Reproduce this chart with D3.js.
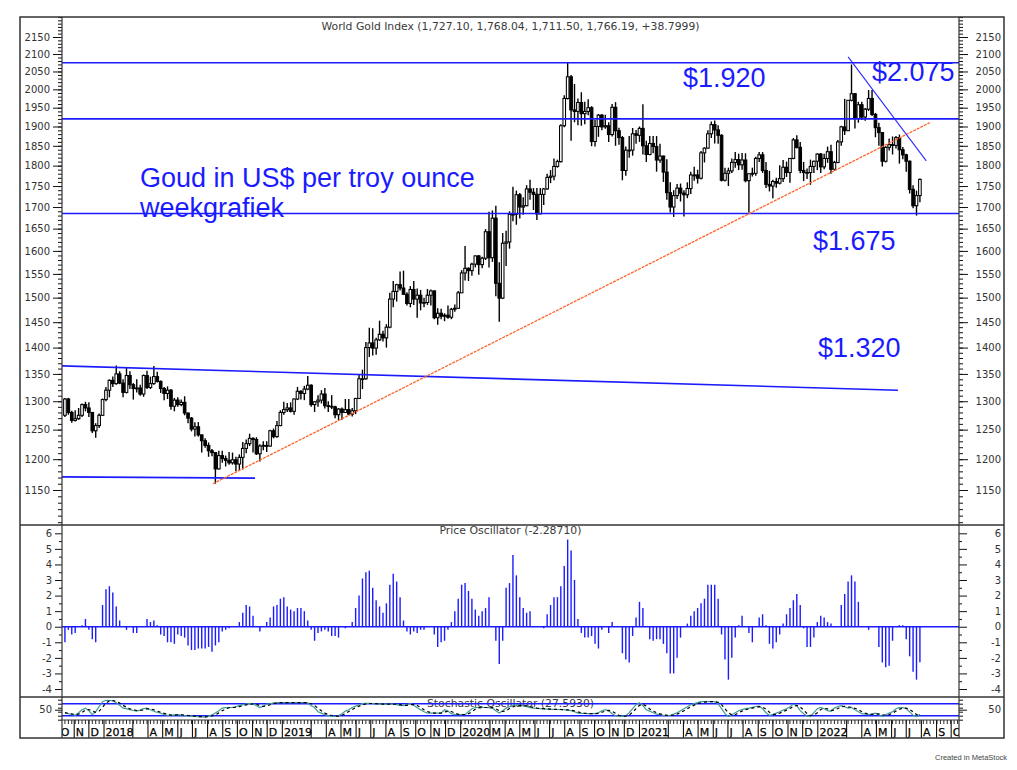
<!DOCTYPE html>
<html>
<head>
<meta charset="utf-8">
<title>World Gold Index - weekgrafiek</title>
<script src="https://cdn.jsdelivr.net/npm/d3@7/dist/d3.min.js"></script>
<style>
  html, body { margin: 0; padding: 0; background: #fff; }
  svg { display: block; }
</style>
</head>
<body>
<svg id="chart" width="1017" height="770"></svg>
<script>
"use strict";

// weekly bars, first week ends friday 13 oct 2017, last one 29 jul 2022
const firstWeek = new Date(2017, 9, 13);

const opens = [
  1275,1304,1280,1266,1269,1275,1294,1288,1280,1248, 1257,1275,1303,1320,1338,1332,1350,1333,1316,1347,
  1330,1323,1324,1313,1347,1325,1332,1345,1336,1323, 1314,1320,1291,1302,1294,1298,1279,1270,1251,1255,
  1241,1231,1223,1214,1211,1184,1206,1201,1198,1194, 1199,1192,1203,1218,1226,1235,1233,1209,1222,1223,
  1222,1248,1238,1257,1280,1285,1288,1282,1304,1318, 1314,1322,1329,1294,1299,1302,1313,1292,1291,1290,
  1276,1286,1280,1285,1277,1283,1305,1341,1341,1400, 1409,1399,1415,1426,1419,1440,1497,1513,1527,1520,
  1507,1488,1517,1497,1505,1489,1490,1505,1514,1459, 1468,1462,1464,1460,1476,1478,1510,1552,1562,1557,
  1571,1589,1570,1584,1643,1585,1674,1530,1499,1617, 1620,1683,1683,1729,1700,1703,1743,1735,1730,1684,
  1730,1743,1771,1774,1798,1810,1902,1975,2035,1944, 1940,1964,1934,1940,1950,1861,1900,1930,1899,1902,
  1879,1951,1889,1871,1788,1839,1839,1881,1877,1895, 1850,1828,1856,1848,1814,1824,1784,1734,1700,1727,
  1745,1733,1729,1744,1777,1777,1769,1832,1844,1881, 1905,1891,1877,1764,1781,1787,1808,1815,1802,1814,
  1763,1780,1781,1818,1827,1788,1754,1750,1761,1757, 1768,1796,1783,1818,1865,1846,1788,1783,1783,1798,
  1811,1829,1797,1818,1835,1791,1808,1860,1899,1889, 1970,1988,1921,1958,1925,1946,1975,1932,1897,1884,
  1811,1846,1853,1851,1871,1840,1827,1811,1742,1703, 1727.10
];
const highs = [
  1306,1306,1283,1284,1288,1296,1299,1298,1281,1261, 1278,1305,1326,1340,1345,1366,1355,1340,1361,1355,
  1333,1340,1330,1349,1356,1345,1365,1354,1338,1326, 1327,1322,1306,1307,1303,1309,1280,1272,1263,1263,
  1241,1235,1228,1217,1211,1214,1214,1206,1212,1211, 1204,1208,1229,1233,1243,1237,1237,1225,1230,1230,
  1250,1252,1265,1284,1299,1297,1298,1305,1326,1320, 1328,1346,1331,1300,1311,1320,1324,1300,1311,1292,
  1288,1289,1304,1304,1288,1306,1348,1358,1411,1439, 1438,1419,1453,1433,1446,1510,1535,1529,1555,1557,
  1511,1524,1535,1519,1516,1500,1518,1517,1515,1478, 1477,1468,1484,1479,1486,1514,1558,1611,1564,1574,
  1590,1591,1587,1649,1689,1692,1703,1575,1640,1645, 1690,1748,1739,1733,1723,1752,1765,1745,1745,1745,
  1745,1780,1789,1818,1815,1906,1984,2075,2040,2015, 1975,1992,1966,1973,1954,1917,1933,1933,1931,1911,
  1960,1965,1897,1875,1848,1875,1896,1891,1900,1959, 1863,1875,1875,1875,1855,1825,1816,1759,1740,1755,
  1756,1740,1759,1785,1797,1790,1837,1846,1890,1913, 1916,1903,1880,1795,1795,1818,1834,1830,1832,1831,
  1780,1795,1822,1834,1834,1809,1787,1765,1770,1801, 1814,1810,1818,1870,1877,1860,1809,1793,1815,1812,
  1831,1832,1830,1848,1853,1812,1865,1902,1974,1970, 2070,1990,1966,1966,1949,1998,1998,1936,1910,1884,
  1849,1869,1874,1875,1879,1847,1830,1813,1752,1739, 1768.04
];
const lows = [
  1272,1276,1262,1264,1267,1272,1282,1272,1244,1236, 1253,1274,1300,1307,1326,1330,1331,1307,1314,1322,
  1303,1316,1310,1308,1322,1322,1330,1334,1315,1302, 1304,1285,1282,1290,1291,1275,1261,1247,1238,1238,
  1211,1219,1204,1205,1160,1183,1194,1188,1191,1191, 1180,1182,1183,1210,1222,1211,1207,1196,1215,1212,
  1221,1235,1236,1256,1276,1281,1280,1276,1302,1303, 1302,1320,1290,1281,1290,1296,1287,1281,1286,1270,
  1266,1267,1279,1275,1273,1277,1304,1322,1339,1382, 1385,1386,1413,1412,1400,1438,1480,1492,1515,1506,
  1484,1480,1485,1459,1474,1480,1485,1484,1456,1445, 1456,1452,1457,1456,1471,1478,1510,1536,1535,1546,
  1564,1548,1562,1580,1564,1576,1503,1451,1497,1567, 1605,1667,1659,1673,1682,1702,1717,1693,1670,1683,
  1705,1741,1757,1764,1795,1808,1898,1972,1863,1911, 1903,1902,1906,1930,1849,1848,1873,1890,1894,1860,
  1874,1850,1853,1764,1775,1820,1825,1855,1860,1828, 1809,1826,1831,1785,1807,1760,1717,1687,1677,1719,
  1713,1678,1721,1731,1763,1756,1766,1808,1843,1870, 1856,1855,1761,1761,1750,1782,1795,1789,1790,1759,
  1687,1773,1775,1809,1782,1745,1737,1721,1746,1754, 1760,1772,1758,1816,1843,1781,1762,1767,1753,1782,
  1789,1782,1791,1807,1780,1788,1806,1850,1878,1889, 1967,1895,1910,1917,1915,1941,1928,1872,1850,1798,
  1808,1838,1828,1843,1805,1816,1785,1732,1697,1680, 1711.50
];
const closes = [
  1304,1280,1266,1269,1275,1294,1288,1280,1248,1257, 1275,1303,1320,1338,1332,1350,1333,1316,1347,1330,
  1323,1324,1313,1347,1325,1332,1345,1336,1323,1314, 1320,1291,1302,1294,1298,1279,1270,1251,1255,1241,
  1231,1223,1214,1211,1184,1206,1201,1198,1194,1199, 1192,1203,1218,1226,1235,1233,1209,1222,1223,1222,
  1248,1238,1257,1280,1285,1288,1282,1304,1318,1314, 1322,1329,1294,1299,1302,1313,1292,1291,1290,1276,
  1286,1280,1285,1277,1283,1305,1341,1341,1400,1409, 1399,1415,1426,1419,1440,1497,1513,1527,1520,1507,
  1488,1517,1497,1505,1489,1490,1505,1514,1459,1468, 1462,1464,1460,1476,1478,1510,1552,1562,1557,1571,
  1589,1570,1584,1643,1585,1674,1530,1499,1617,1620, 1683,1683,1729,1700,1703,1743,1735,1730,1684,1730,
  1743,1771,1774,1798,1810,1902,1975,2035,1944,1940, 1964,1934,1940,1950,1861,1900,1930,1899,1902,1879,
  1951,1889,1871,1788,1839,1839,1881,1877,1895,1850, 1828,1856,1848,1814,1824,1784,1734,1700,1727,1745,
  1733,1729,1744,1777,1777,1769,1832,1844,1881,1905, 1891,1877,1764,1781,1787,1808,1815,1802,1814,1763,
  1780,1781,1818,1827,1788,1754,1750,1761,1757,1768, 1796,1783,1818,1865,1846,1788,1783,1783,1798,1811,
  1829,1797,1818,1835,1791,1808,1860,1899,1889,1970, 1988,1921,1958,1925,1946,1975,1932,1897,1884,1811,
  1846,1853,1851,1871,1840,1827,1811,1742,1703,1727, 1766.19
];

// Price Oscillator, one value per week
const priceOsc = [
  -1.0,-0.2,-0.5,-0.4,0,0.1,0.5,-0.2,-0.8,-1.0, 0,1.4,2.4,2.6,2.2,1.3,0.4,0,-0.2,0,
  -0.4,-0.4,0,0,0.5,0.3,0.4,0.1,-0.5,-0.6, -1.0,-1.0,-1.1,-0.5,-0.6,-0.7,-1.2,-1.5,-1.5,-1.4,
  -1.4,-1.4,-1.3,-1.6,-1.2,-1.0,-0.3,-0.2,-0.1,0, 0,0.3,0.9,1.4,1.3,0.7,0,-0.3,0,0.3,
  0.6,1.3,1.4,1.8,1.9,1.3,1.1,1.0,1.2,1.2, 1.0,0.4,-0.2,-0.9,-0.4,-0.3,-0.2,-0.3,-0.6,-0.6,
  -0.7,0,-0.1,0,0.3,1.2,2.0,3.1,3.5,3.6, 2.5,1.7,1.3,0.9,1.5,2.7,3.4,2.9,1.9,0.4,
  -0.3,-0.5,-0.3,-0.4,-0.2,-0.2,0,0,-0.5,-1.3, -1.0,-0.9,-0.2,0.3,1.0,1.8,2.7,2.8,2.3,1.8,
  1.1,0.7,1.0,1.2,1.9,0,-0.9,-2.4,-0.9,2.5, 2.8,4.6,3.3,1.9,1.2,0.9,1.0,0,0,0,
  -0.1,0.8,1.4,1.9,1.9,2.6,3.9,5.6,4.9,3.0, 0.5,-0.4,-0.7,-0.7,-0.6,-1.1,-1.4,-0.2,0,-0.4,
  0.3,0,0,-1.7,-2.1,-2.3,-0.6,0.6,1.6,1.2, 0,-0.8,-0.9,-0.8,-0.8,-1.1,-1.7,-3.0,-3.0,-2.0,
  -0.7,0,0.2,0.7,1.0,1.2,1.5,1.8,2.7,2.7, 2.7,1.8,-0.5,-2.1,-3.4,-2.0,-0.7,0.1,0.7,0,
  -0.4,-1.0,0,0.6,0.8,0.1,-1.1,-1.4,-1.0,-0.5, 0.2,0.8,1.2,1.7,2.1,1.4,-0.1,-1.3,-1.3,-0.7,
  0.3,0.7,0.6,0.3,0.2,0,0,1.4,2.1,2.9, 3.3,2.9,1.6,0,0,-0.2,0,0,-1.3,-2.3,
  -2.6,-2.5,-0.9,0,0.1,0.1,-0.8,-1.9,-2.9,-3.4, -2.2871
];

// Stochastic Oscillator: teal line (%K) and black dashed line (%D)
const stochK = [
  33,30,26,22,35,50,58,45,25,40,65,
  90,97,96,95,85,72,58,55,50,46, 43,48,55,58,50,42,36,33,26,22,
  22,24,25,23,20,19,18,16,15,14, 13,18,25,33,45,58,60,61,61,65,
  70,75,78,80,80,70,61,68,78,79, 84,85,85,85,85,85,85,85,85,85,
  84,70,61,40,33,25,20,18,16,20, 30,43,50,61,68,75,80,82,82,80,
  79,78,78,78,78,78,75,72,70,75, 80,72,60,50,40,33,33,33,33,33,
  50,43,30,25,25,25,25,40,55,61, 61,61,61,60,58,45,33,45,58,65,
  70,75,72,70,65,60,58,56,55,54, 53,52,52,51,50,50,48,45,40,33,
  32,31,30,30,30,35,45,50,45,30, 20,16,18,20,35,55,75,85,70,50,
  43,35,28,25,22,20,22,28,35,45, 55,65,75,80,85,90,90,90,90,90,
  80,55,30,16,25,35,45,50,55,58, 62,66,68,55,35,22,25,33,40,48,
  55,65,78,70,45,30,18,16,35,55, 62,55,45,42,58,66,70,65,58,62,
  50,40,30,28,25,28,33,25,16,25, 33,40,55,60,60,55,40,22,16,27.593
];
const stochD = [
  35,32,29,26,28,36,48,51,43,37,43,
  62,84,94,96,92,84,72,62,54,50, 46,46,49,54,54,50,43,37,32,27,
  23,23,24,24,23,21,19,18,16,15, 14,15,19,25,34,45,54,60,61,62,
  65,70,74,78,79,77,70,66,69,75, 80,83,85,85,85,85,85,85,85,85,
  85,80,72,57,45,33,26,21,18,18, 22,31,41,51,60,68,74,79,81,81,
  80,79,78,78,78,78,77,75,72,72, 75,76,71,61,50,41,35,33,33,33,
  39,42,41,33,27,25,25,30,40,52, 59,61,61,61,60,54,45,41,45,56,
  64,70,72,72,69,65,61,58,56,55, 54,53,52,52,51,50,49,48,44,39,
  35,32,31,30,30,32,37,43,47,42, 32,22,18,18,24,37,55,72,77,68,
  54,43,35,29,25,22,21,23,28,36, 45,55,65,73,80,85,88,90,90,90,
  87,75,55,34,24,25,35,43,50,54, 58,62,65,63,53,37,27,27,33,40,
  48,56,66,71,64,48,31,21,23,35, 51,57,54,47,48,56,65,67,64,62,
  57,51,40,33,28,27,29,29,25,22, 25,33,43,52,58,58,52,39,26,22
];

const priceTicks = [1150,1200,1250,1300,1350,1400,1450,1500,1550,1600,1650,1700,1750,1800,1850,1900,1950,2000,2050,2100,2150];
const oscTicks = [-4,-3,-2,-1,0,1,2,3,4,5,6];
const stochTicks = [50];
const stochBands = [20, 80];
const levels = [2075, 1920, 1685];
// hand drawn lines, as [date, price] pairs
const trendLines = [
  { from: ["2017-10-07", 1365], to: ["2022-06-14", 1320], kind: "band" },
  { from: ["2017-10-07", 1171], to: ["2018-11-06", 1169], kind: "band" },
  { from: ["2018-08-12", 1160], to: ["2022-08-18", 1910], kind: "up" },
  { from: ["2022-03-04", 2092], to: ["2022-08-11", 1812], kind: "down" }
];
// month labels MetaStock left out because they did not fit
const hiddenMonths = ["2018-02","2018-03","2019-02","2019-03","2020-02","2021-02","2021-03","2022-02","2022-03"];

const titleText = "World Gold Index (1,727.10, 1,768.04, 1,711.50, 1,766.19, +38.7999)";
const oscTitle = "Price Oscillator (-2.28710)";
const stochTitle = "Stochastic Oscillator (27.5930)";
const notes = ["Goud in US$ per troy ounce", "weekgrafiek", "$1.920", "$2.075", "$1.675", "$1.320"];

// ---------------------------------------------------------------- layout
const frame = { left: 20, right: 1004, top: 17, bottom: 738 };
const plot = { left: 62, right: 959 };
const pricePanel = { top: 17, bottom: 525 };
const oscPanel = { top: 525, bottom: 697 };
const stochPanel = { top: 697, bottom: 720 };
const BLUE = "#1b1bff";
const AXIS_FONT = "DejaVu Sans, Verdana, sans-serif";
const plainNumber = d => String(d); // keeps the ascii hyphen for negatives

const parseDay = d3.timeParse("%Y-%m-%d");
const svg = d3.select("#chart");

const x = d3.scaleTime()
    .domain([new Date(2017, 9, 7), new Date(2022, 9, 17)])
    .range([plot.left, plot.right]);
const yPrice = d3.scaleLog().domain([1150, 2150]).range([490, 37]);
const yOsc = d3.scaleLinear().domain([-4, 6]).range([689, 533.3]);
const yStoch = d3.scaleLinear().domain([20, 80]).range([715.7, 703.7]);

const weeks = closes.map((c, i) => d3.timeDay.offset(firstWeek, 7 * i));
const bars = closes.map((c, i) => ({ date: weeks[i], o: opens[i], h: highs[i], l: lows[i], c: c }));

svg.append("rect").attr("width", 1017).attr("height", 770).attr("fill", "#fff");

const defs = svg.append("defs");
function addClip(id, top, bottom) {
    defs.append("clipPath").attr("id", id)
        .append("rect")
        .attr("x", plot.left).attr("y", top)
        .attr("width", plot.right - plot.left).attr("height", bottom - top);
}
addClip("clipPrice", pricePanel.top, pricePanel.bottom);
addClip("clipOsc", oscPanel.top, oscPanel.bottom);
addClip("clipStoch", stochPanel.top, stochPanel.bottom);
addClip("clipDates", stochPanel.bottom, frame.bottom);

function panelTitle(text, y, width) {
    svg.append("text")
        .attr("x", (plot.left + plot.right) / 2).attr("y", y)
        .attr("text-anchor", "middle")
        .attr("font-family", AXIS_FONT).attr("font-size", 10.5)
        .attr("fill", "#3a3a3a")
        .attr("textLength", width).attr("lengthAdjust", "spacingAndGlyphs")
        .text(text);
}

// ---------------------------------------------------------------- price panel
panelTitle(titleText, 30, 378);

const candles = svg.append("g").attr("clip-path", "url(#clipPrice)");
candles.selectAll("line.wick")
    .data(bars)
    .join("line")
    .attr("class", "wick")
    .attr("x1", d => x(d.date)).attr("x2", d => x(d.date))
    .attr("y1", d => yPrice(d.h)).attr("y2", d => yPrice(d.l))
    .attr("stroke", "#000").attr("stroke-width", 1.4);
candles.selectAll("rect.body")
    .data(bars)
    .join("rect")
    .attr("class", "body")
    .attr("x", d => x(d.date) - 1.3).attr("width", 2.6)
    .attr("y", d => yPrice(Math.max(d.o, d.c)))
    .attr("height", d => Math.max(0.8, Math.abs(yPrice(d.o) - yPrice(d.c))))
    .attr("fill", d => d.c >= d.o ? "#fff" : "#000")
    .attr("stroke", "#000").attr("stroke-width", 1.05);

const drawn = svg.append("g").attr("clip-path", "url(#clipPrice)");
drawn.selectAll("line.level")
    .data(levels)
    .join("line")
    .attr("class", "level")
    .attr("x1", plot.left).attr("x2", plot.right)
    .attr("y1", d => yPrice(d)).attr("y2", d => yPrice(d))
    .attr("stroke", BLUE).attr("stroke-width", 1.6);
const lineStyle = {
    band: { color: BLUE, width: 1.6, dash: null },
    up: { color: "#ff6428", width: 1.3, dash: "3,1" },
    down: { color: "#2a2aff", width: 1.1, dash: null }
};
drawn.selectAll("line.trend")
    .data(trendLines)
    .join("line")
    .attr("class", "trend")
    .attr("x1", d => x(parseDay(d.from[0]))).attr("y1", d => yPrice(d.from[1]))
    .attr("x2", d => x(parseDay(d.to[0]))).attr("y2", d => yPrice(d.to[1]))
    .attr("stroke", d => lineStyle[d.kind].color)
    .attr("stroke-width", d => lineStyle[d.kind].width)
    .attr("stroke-dasharray", d => lineStyle[d.kind].dash);

const notePos = [[140, 187], [140, 217], [683, 87], [872, 81], [813, 250], [818, 357]];
svg.append("g")
    .selectAll("text")
    .data(notes)
    .join("text")
    .attr("x", (d, i) => notePos[i][0]).attr("y", (d, i) => notePos[i][1])
    .attr("font-family", "Liberation Sans, Arial, sans-serif")
    .attr("font-size", 27)
    .attr("fill", BLUE)
    .text(d => d);

// ---------------------------------------------------------------- price oscillator
panelTitle(oscTitle, 534, 142);
const osc = svg.append("g").attr("clip-path", "url(#clipOsc)");
osc.selectAll("line.bar")
    .data(priceOsc.map((v, i) => ({ date: weeks[i], v: v })))
    .join("line")
    .attr("class", "bar")
    .attr("x1", d => x(d.date)).attr("x2", d => x(d.date))
    .attr("y1", yOsc(0)).attr("y2", d => yOsc(d.v))
    .attr("stroke", BLUE).attr("stroke-width", 1.4);
osc.append("line")
    .attr("x1", plot.left).attr("x2", plot.right)
    .attr("y1", yOsc(0)).attr("y2", yOsc(0))
    .attr("stroke", BLUE).attr("stroke-width", 1.6);

// ---------------------------------------------------------------- stochastic
panelTitle(stochTitle, 707, 167);
const stoch = svg.append("g").attr("clip-path", "url(#clipStoch)");
stoch.selectAll("line.band")
    .data(stochBands)
    .join("line")
    .attr("class", "band")
    .attr("x1", plot.left).attr("x2", plot.right)
    .attr("y1", d => yStoch(d)).attr("y2", d => yStoch(d))
    .attr("stroke", BLUE).attr("stroke-width", 1.5);
const stochLine = d3.line()
    .x((d, i) => x(weeks[i]))
    .y(d => yStoch(d));
stoch.append("path")
    .attr("d", stochLine(stochK))
    .attr("fill", "none").attr("stroke", "#3f9c9a").attr("stroke-width", 1.2);
stoch.append("path")
    .attr("d", stochLine(stochD))
    .attr("fill", "none").attr("stroke", "#000").attr("stroke-width", 1.2)
    .attr("stroke-dasharray", "3,3");

// ---------------------------------------------------------------- value axes
function styleAxis(g) {
    g.select(".domain").remove();
    g.attr("font-family", AXIS_FONT).attr("font-size", 10);
    g.selectAll("line").attr("stroke", "#111");
    g.selectAll("text").attr("fill", "#333");
    return g;
}
function valueAxes(scale, major, minor, majorLeft, majorRight, minorSize) {
    svg.append("g").attr("transform", `translate(${plot.left},0)`)
        .call(d3.axisLeft(scale).tickValues(minor).tickSize(minorSize).tickFormat(""))
        .call(styleAxis);
    svg.append("g").attr("transform", `translate(${plot.left},0)`)
        .call(d3.axisLeft(scale).tickValues(major).tickSize(majorLeft).tickPadding(3).tickFormat(plainNumber))
        .call(styleAxis);
    svg.append("g").attr("transform", `translate(${plot.right},0)`)
        .call(d3.axisRight(scale).tickValues(minor).tickSize(minorSize).tickFormat(""))
        .call(styleAxis);
    const right = svg.append("g").attr("transform", `translate(${plot.right},0)`)
        .call(d3.axisRight(scale).tickValues(major).tickSize(majorRight).tickFormat(plainNumber))
        .call(styleAxis);
    right.selectAll("text").attr("x", 1001 - plot.right).attr("text-anchor", "end");
}
valueAxes(yPrice, priceTicks, d3.range(1100, 2211, 10), 9, 9, 4);
valueAxes(yOsc, oscTicks, d3.range(-4, 6.01, 0.5).filter(v => v % 1 !== 0), 7, 8, 3);
valueAxes(yStoch, stochTicks, [0, 20, 40, 60, 80, 100], 7, 8, 4);

// ---------------------------------------------------------------- date axis
const dates = svg.append("g").attr("clip-path", "url(#clipDates)");
dates.selectAll("line.week")
    .data(d3.timeFriday.range(x.domain()[0], x.domain()[1]))
    .join("line")
    .attr("class", "week")
    .attr("x1", d => x(d)).attr("x2", d => x(d))
    .attr("y1", stochPanel.bottom).attr("y2", stochPanel.bottom + 4)
    .attr("stroke", "#111").attr("stroke-width", 0.9);
const months = d3.timeMonth.range(new Date(2017, 9, 1), new Date(2022, 10, 1));
const monthLetter = "JFMAMJJASOND";
// february boundaries sit under the year label
dates.selectAll("line.month")
    .data(months.filter(m => m.getMonth() !== 1))
    .join("line")
    .attr("class", "month")
    .attr("x1", d => x(d)).attr("x2", d => x(d))
    .attr("y1", stochPanel.bottom).attr("y2", frame.bottom)
    .attr("stroke", "#111").attr("stroke-width", 1.1);
const fmtMonth = d3.timeFormat("%Y-%m");
dates.selectAll("text")
    .data(months.filter(m => !hiddenMonths.includes(fmtMonth(m))))
    .join("text")
    .attr("x", d => x(d) + 1.6).attr("y", 735.5)
    .attr("font-family", AXIS_FONT).attr("font-size", 11)
    .attr("fill", "#000")
    .attr("stroke", "#000").attr("stroke-width", 0.25)
    .text(d => d.getMonth() === 0 ? d.getFullYear() : monthLetter[d.getMonth()]);

// ---------------------------------------------------------------- frame
const border = svg.append("g").attr("fill", "none").attr("stroke", "#333");
border.append("rect")
    .attr("x", frame.left).attr("y", frame.top)
    .attr("width", frame.right - frame.left).attr("height", frame.bottom - frame.top)
    .attr("stroke-width", 1.5);
[pricePanel.bottom, oscPanel.bottom].forEach(y => {
    border.append("line").attr("x1", frame.left).attr("x2", frame.right)
        .attr("y1", y).attr("y2", y).attr("stroke-width", 1.5);
});
border.append("line").attr("x1", plot.left).attr("x2", plot.right)
    .attr("y1", stochPanel.bottom).attr("y2", stochPanel.bottom).attr("stroke-width", 1);
[plot.left, plot.right].forEach(px => {
    border.append("line").attr("x1", px).attr("x2", px)
        .attr("y1", frame.top).attr("y2", frame.bottom).attr("stroke-width", 1.2);
});

svg.append("text")
    .attr("x", 935).attr("y", 760)
    .attr("font-family", "Liberation Sans, Arial, sans-serif")
    .attr("font-size", 7.5).attr("fill", "#444")
    .text("Created in MetaStock");
</script>
</body>
</html>
